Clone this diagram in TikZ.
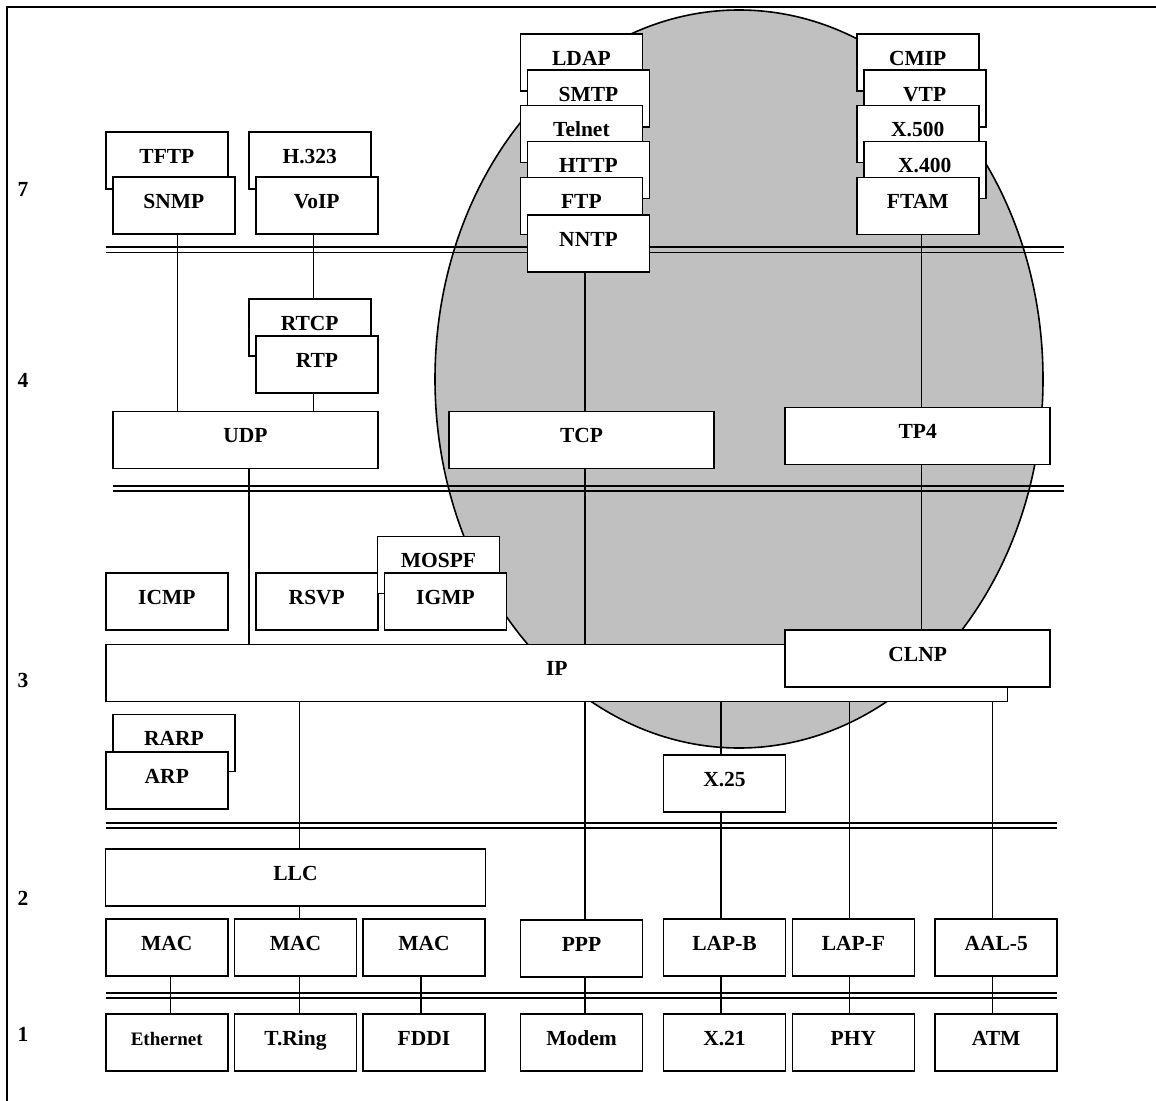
\documentclass[tikz,border=0pt]{standalone}
\usepackage{fontspec}
\setmainfont{Liberation Serif}
\usetikzlibrary{calc}
\definecolor{ellgray}{RGB}{192,192,192}
\pgfdeclarelayer{ell}
\pgfdeclarelayer{connl}
\pgfsetlayers{ell,connl,main}
\begin{document}
\begin{tikzpicture}[x=1pt,y=-1pt,
  bx/.style={draw, fill=white, line width=1.6pt, inner sep=0pt, minimum width=122pt,
    minimum height=57pt, text height=31.4pt, text depth=25.6pt,
    font=\bfseries\fontsize{21.5}{24}\selectfont},
  wide/.style={minimum width=265pt},
  conn/.style={line width=1.5pt},
  thickbus/.style={line width=2.2pt},
  thinbus/.style={line width=1.6pt},
  lay/.style={font=\bfseries\fontsize{21.5}{24}\selectfont, inner sep=0pt}]
\useasboundingbox (0,0) rectangle (1156,1100);

% layer numbers
\node[lay] (L7) at (23,189) {7};
\node[lay] (L4) at (23,380) {4};
\node[lay] (L3) at (23,680) {3};
\node[lay] (L2) at (23,898) {2};
\node[lay] (L1) at (23,1034) {1};

% ---- layer 7
\node[bx] (TFTP) at (166.9,160.4) {TFTP};
\node[bx] (SNMP) at (173.9,205.7) {SNMP};
\node[bx] (H323) at (309.7,160.4) {H.323};
\node[bx] (VoIP) at (316.7,205.7) {VoIP};
\node[bx] (LDAP) at (581.4,62.2) {LDAP};
\node[bx] (SMTP) at (588.5,98.2) {SMTP};
\node[bx] (Telnet) at (581.4,134) {Telnet};
\node[bx] (HTTP) at (588.5,170) {HTTP};
\node[bx] (FTP) at (581.4,206) {FTP};
\node[bx] (NNTP) at (588.5,243.3) {NNTP};
\node[bx] (CMIP) at (917.7,62.2) {CMIP};
\node[bx] (VTP) at (924.7,98.2) {VTP};
\node[bx] (X500) at (917.7,134) {X.500};
\node[bx] (X400) at (924.7,170) {X.400};
\node[bx] (FTAM) at (917.7,206) {FTAM};

% ---- layer 4
\node[bx] (RTCP) at (309.7,327.7) {RTCP};
\node[bx] (RTP) at (317,364.7) {RTP};
\node[bx, wide] (UDP) at (245.4,440) {UDP};
\node[bx, wide] (TCP) at (581.5,440) {TCP};
\node[bx, wide] (TP4) at (917.7,435.8) {TP4};

% ---- layer 3
\node[bx] (ICMP) at (166.8,601.4) {ICMP};
\node[bx] (RSVP) at (316.8,601.4) {RSVP};
\node[bx] (MOSPF) at (438.5,565) {MOSPF};
\node[bx] (IGMP) at (445.5,601.4) {IGMP};
\node[bx, minimum width=901.5pt] (IP) at (556.8,673) {IP};
\node[bx, wide] (CLNP) at (917.7,658.7) {CLNP};
\node[bx] (RARP) at (173.9,743) {RARP};
\node[bx] (ARP) at (166.8,780.2) {ARP};
\node[bx] (X25) at (724.5,783.5) {X.25};

% ---- layer 2
\node[bx, minimum width=379.7pt] (LLC) at (295.5,877.4) {LLC};
\node[bx] (MAC1) at (166.7,947.4) {MAC};
\node[bx] (MAC2) at (295.5,947.4) {MAC};
\node[bx] (MAC3) at (424,947.4) {MAC};
\node[bx] (PPP) at (581.5,948.5) {PPP};
\node[bx] (LAPB) at (724.5,947.4) {LAP-B};
\node[bx] (LAPF) at (853.4,947.4) {LAP-F};
\node[bx] (AAL5) at (996.2,947.4) {AAL-5};

% ---- layer 1
\node[bx, font=\bfseries\fontsize{19}{22}\selectfont] (Eth) at (166.7,1042.2) {Ethernet};
\node[bx] (TRing) at (295.5,1042.2) {T.Ring};
\node[bx] (FDDI) at (424,1042.2) {FDDI};
\node[bx] (Modem) at (581.5,1042.2) {Modem};
\node[bx] (X21) at (724.5,1042.2) {X.21};
\node[bx] (PHY) at (853.4,1042.2) {PHY};
\node[bx] (ATM) at (996.2,1042.2) {ATM};

% background: ellipse and buses
\begin{pgfonlayer}{ell}
\fill[white] (0,0) rectangle (1156,1100);
\draw[line width=2.2pt] (7,1102) -- (7,7) -- (1158,7);
\draw[line width=1.6pt, fill=ellgray] (739,379) ellipse [x radius=304pt, y radius=369pt];
\draw[thickbus] (106,247.3) -- (1064,247.3);
\draw[thinbus] (106,252.5) -- (1064,252.5);
\draw[thickbus] (112.9,486) -- (1063.8,486);
\draw[thinbus] (112.9,491) -- (1063.8,491);
\draw[thickbus] (106,823.3) -- (1057,823.3);
\draw[thinbus] (106,828.2) -- (1057,828.2);
\draw[thickbus] (105.6,992.7) -- (1057,992.7);
\draw[thinbus] (105.6,997.8) -- (1057,997.8);
\end{pgfonlayer}

% connectors
\coordinate (xa) at (177.5,0);
\coordinate (xb) at (313.5,0);
\coordinate (xc) at (585,0);
\coordinate (xd) at (921.5,0);
\coordinate (xe) at (249,0);
\coordinate (xf) at (299.3,0);
\coordinate (xg) at (720.8,0);
\coordinate (xh) at (849.7,0);
\coordinate (xi) at (992.7,0);
\coordinate (xj) at (170.3,0);
\coordinate (xk) at (421,0);
\begin{pgfonlayer}{connl}
\draw[conn] (SNMP.south -| xa) -- (UDP.north -| xa);
\draw[conn] (VoIP.south -| xb) -- (RTCP.north -| xb);
\draw[conn] (RTP.south -| xb) -- (UDP.north -| xb);
\draw[conn] (NNTP.south -| xc) -- (TCP.north -| xc);
\draw[conn] (TCP.south -| xc) -- (IP.north -| xc);
\draw[conn] (IP.south -| xc) -- (PPP.north -| xc);
\draw[conn] (PPP.south -| xc) -- (Modem.north -| xc);
\draw[conn] (FTAM.south -| xd) -- (TP4.north -| xd);
\draw[conn] (TP4.south -| xd) -- (CLNP.north -| xd);
\draw[conn] (UDP.south -| xe) -- (IP.north -| xe);
\draw[conn] (IP.south -| xf) -- (LLC.north -| xf);
\draw[conn] (LLC.south -| xf) -- (MAC2.north -| xf);
\draw[conn] (MAC2.south -| xf) -- (TRing.north -| xf);
\draw[conn] (IP.south -| xg) -- (X25.north -| xg);
\draw[conn] (X25.south -| xg) -- (LAPB.north -| xg);
\draw[conn] (LAPB.south -| xg) -- (X21.north -| xg);
\draw[conn] (IP.south -| xh) -- (LAPF.north -| xh);
\draw[conn] (LAPF.south -| xh) -- (PHY.north -| xh);
\draw[conn] (IP.south -| xi) -- (AAL5.north -| xi);
\draw[conn] (AAL5.south -| xi) -- (ATM.north -| xi);
\draw[conn] (MAC1.south -| xj) -- (Eth.north -| xj);
\draw[conn] (MAC3.south -| xk) -- (FDDI.north -| xk);
\end{pgfonlayer}
\end{tikzpicture}
\end{document}
